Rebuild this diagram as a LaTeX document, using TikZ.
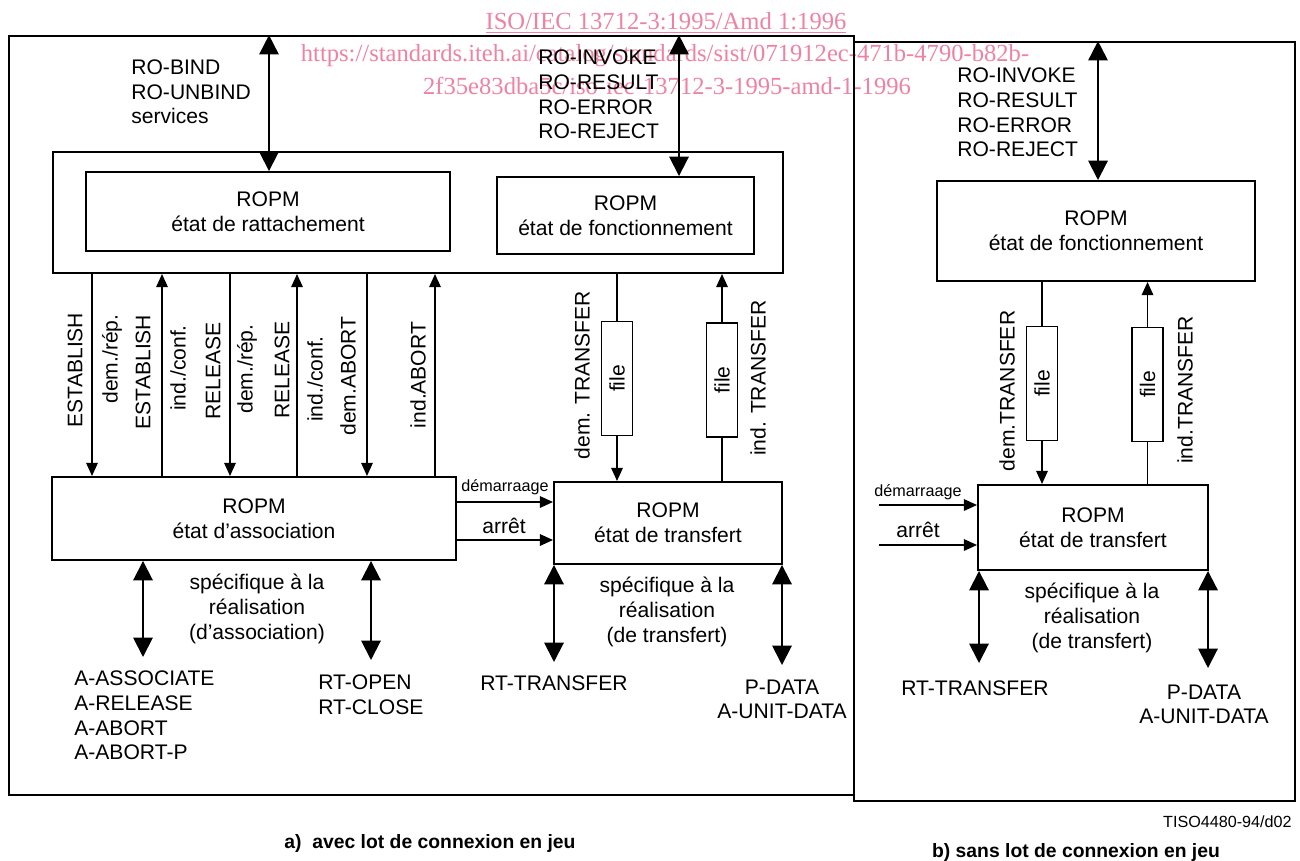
\documentclass[tikz,border=0pt]{standalone}
\usepackage{graphicx}
\usepackage{fontspec}
\setmainfont{Liberation Sans}
\newfontfamily\wmfont{Liberation Serif}
\usetikzlibrary{arrows.meta, positioning}

\definecolor{wmpink}{RGB}{238,130,162}

\tikzset{
    box/.style={draw, line width=1.1pt, align=center, inner sep=0pt, font=\fontsize{12}{14}\selectfont},
    filebox/.style={draw, line width=1.1pt, minimum width=0.62cm, minimum height=2.28cm, inner sep=0pt, font=\fontsize{12}{14}\selectfont},
    txt/.style={align=left, inner sep=0pt, font=\fontsize{12}{14}\selectfont},
    small/.style={inner sep=0pt, font=\fontsize{9.2}{11}\selectfont},
    vtxt/.style={rotate=90, inner sep=0pt, font=\fontsize{12}{14}\selectfont},
    caption/.style={inner sep=0pt, font=\fontsize{11}{13}\selectfont\bfseries},
    wm/.style={inner sep=0pt, text=wmpink, font=\fontsize{14}{16}\selectfont\wmfont},
    plain/.style={line width=1.1pt},
    sarrow/.style={line width=1.1pt, -{Triangle[length=7.5pt, width=6.5pt]}},
    darrow/.style={line width=1.1pt, {Triangle[length=11pt, width=11pt]}-{Triangle[length=11pt, width=11pt]}}
}

\begin{document}
\begin{tikzpicture}[x=0.02cm, y=-0.02cm]
    \useasboundingbox (0,0) rectangle (1300,861);

    % watermark
    \node[wm] (wm1) at (666,23) {\underline{ISO/IEC 13712-3:1995/Amd 1:1996}};
    \node[wm] (wm2) at (665,56) {https://standards.iteh.ai/catalog/standards/sist/071912ec-471b-4790-b82b-};
    \node[wm] (wm3) at (667,86) {2f35e83dba5c/iso-iec-13712-3-1995-amd-1-1996};

    % frames a) and b)
    \node[draw, line width=1.1pt, minimum width=16.9cm, minimum height=15.18cm] (fa) at (431.5,415.5) {};
    \node[draw, line width=1.1pt, minimum width=8.82cm, minimum height=15.18cm] (fb) at (1074.5,421.5) {};

    % a) boxes
    \node[box, minimum width=14.6cm, minimum height=2.42cm] (cont) at (418,212.5) {};
    \node[box, minimum width=7.28cm, minimum height=1.58cm] (ratt) at (268,211.5) {ROPM\\état de rattachement};
    \node[box, minimum width=5.14cm, minimum height=1.54cm] (foncA) at (625.5,215.5) {ROPM\\état de fonctionnement};
    \node[box, minimum width=8.08cm, minimum height=1.66cm] (assoc) at (254,518.5) {ROPM\\état d'association};
    \node[box, minimum width=4.56cm, minimum height=1.64cm] (tra) at (668,523) {ROPM\\état de transfert};
    \node[filebox] (fa1) at (617,378.5) {\rotatebox{90}{file}};
    \node[filebox] (fa2) at (722,380) {\rotatebox{90}{file}};

    % b) boxes
    \node[box, minimum width=6.36cm, minimum height=2cm] (foncB) at (1096,231) {ROPM\\état de fonctionnement};
    \node[box, minimum width=4.6cm, minimum height=1.7cm] (trb) at (1093,527.5) {ROPM\\état de transfert};
    \node[filebox] (fb1) at (1042,383.5) {\rotatebox{90}{file}};
    \node[filebox] (fb2) at (1147.5,384.5) {\rotatebox{90}{file}};

    % services at the top
    \node[txt, anchor=west] (bindsv) at (131,92) {RO-BIND\\RO-UNBIND\\services};
    \node[txt, anchor=west] (invA) at (538,94.5) {RO-INVOKE\\RO-RESULT\\RO-ERROR\\RO-REJECT};
    \node[txt, anchor=west] (invB) at (957,112.5) {RO-INVOKE\\RO-RESULT\\RO-ERROR\\RO-REJECT};
    \draw[darrow] (fa.north -| 269,0) -- (ratt.north -| 269,0);
    \draw[darrow] (fa.north -| 679,0) -- (foncA.north -| 679,0);
    \draw[darrow] (fb.north -| 1098,0) -- (foncB.north -| 1098,0);

    % association primitives
    \foreach \x in {92,230,367}
        \draw[sarrow] (cont.south -| \x,0) -- (assoc.north -| \x,0);
    \foreach \x in {162,297,435}
        \draw[sarrow] (assoc.north -| \x,0) -- (cont.south -| \x,0);
    \foreach \x/\y/\t in {75/370/ESTABLISH, 112/359/{dem./rép.}, 143/372/ESTABLISH,
                          178/368/{ind./conf.}, 213/371/RELEASE, 247/369/{dem./rép.},
                          282/370/RELEASE, 315/379/{ind./conf.}, 348/376/dem.ABORT,
                          418/375/ind.ABORT}
        \node[vtxt] (lab\x) at (\x,\y) {\t};

    % transfer primitives a)
    \draw[plain] (cont.south -| fa1) -- (fa1.north);
    \draw[sarrow] (fa1.south) -- (tra.north -| fa1);
    \draw[plain] (tra.north -| fa2) -- (fa2.south);
    \draw[sarrow] (fa2.north) -- (cont.south -| fa2);
    \node[vtxt] (demA) at (582,375) {dem. TRANSFER};
    \node[vtxt] (indA) at (758,378) {ind. TRANSFER};

    % transfer primitives b)
    \draw[plain] (foncB.south -| fb1) -- (fb1.north);
    \draw[sarrow] (fb1.south) -- (trb.north -| fb1);
    \draw[plain] (trb.north -| fb2) -- (fb2.south);
    \draw[sarrow] (fb2.north) -- (foncB.south -| fb2);
    \node[vtxt] (demB) at (1007,391) {dem.TRANSFER};
    \node[vtxt] (indB) at (1185,390) {ind.TRANSFER};

    % start / stop
    \draw[sarrow] (assoc.east |- 0,502) -- (tra.west |- 0,502);
    \draw[sarrow] (assoc.east |- 0,540) -- (tra.west |- 0,540);
    \node[small] (startA) at (505,487) {démarraage};
    \node[txt] (stopA) at (504,526) {arrêt};
    \coordinate (sb1) at (879,505);
    \coordinate (sb2) at (879,545);
    \draw[sarrow] (sb1) -- (trb.west |- sb1);
    \draw[sarrow] (sb2) -- (trb.west |- sb2);
    \node[small] (startB) at (918,492) {démarraage};
    \node[txt] (stopB) at (918,530) {arrêt};

    % lower services
    \coordinate (pa1) at (143,657);
    \coordinate (pa2) at (371,660);
    \coordinate (pt1) at (554,662);
    \coordinate (pt2) at (782,665);
    \coordinate (pb1) at (979,663);
    \coordinate (pb2) at (1208,668);
    \draw[darrow] (assoc.south -| pa1) -- (pa1);
    \draw[darrow] (assoc.south -| pa2) -- (pa2);
    \draw[darrow] (tra.south -| pt1) -- (pt1);
    \draw[darrow] (tra.south -| pt2) -- (pt2);
    \draw[darrow] (trb.south -| pb1) -- (pb1);
    \draw[darrow] (trb.south -| pb2) -- (pb2);

    \node[txt, align=center] (specA) at (257,609) {spécifique à la\\réalisation\\(d'association)};
    \node[txt, align=center] (specT) at (667,612) {spécifique à la\\réalisation\\(de transfert)};
    \node[txt, align=center] (specB) at (1092,618) {spécifique à la\\réalisation\\(de transfert)};
    \node[txt, anchor=west] (acse) at (74,715.5) {A-ASSOCIATE\\A-RELEASE\\A-ABORT\\A-ABORT-P};
    \node[txt, anchor=west] (rtoc) at (318,694.5) {RT-OPEN\\RT-CLOSE};
    \node[txt, anchor=west] (rttA) at (480,683) {RT-TRANSFER};
    \node[txt, align=center] (pdA) at (782,699.5) {P-DATA\\A-UNIT-DATA};
    \node[txt, anchor=west] (rttB) at (901,688) {RT-TRANSFER};
    \node[txt, align=center] (pdB) at (1204,704.5) {P-DATA\\A-UNIT-DATA};

    % captions
    \node[small, anchor=east] (ref) at (1292,822) {TISO4480-94/d02};
    \node[caption] (capA) at (430,843) {a)\ \ avec lot de connexion en jeu};
    \node[caption] (capB) at (1076,852) {b) sans lot de connexion en jeu};
\end{tikzpicture}
\end{document}
